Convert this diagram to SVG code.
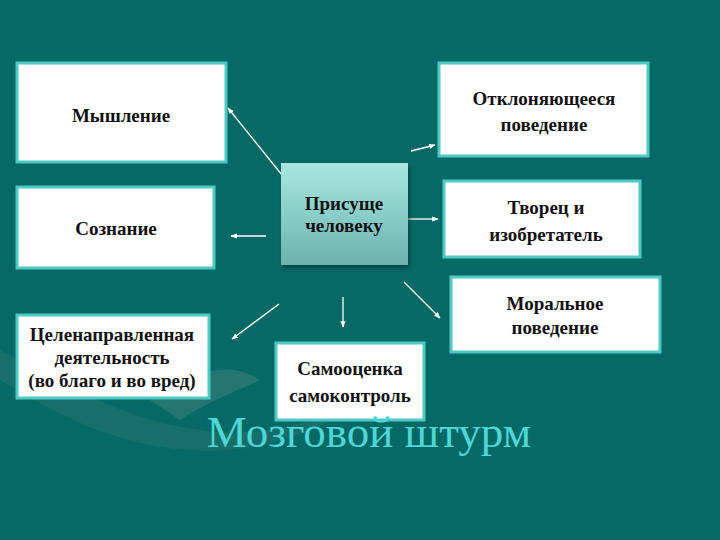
<svg xmlns="http://www.w3.org/2000/svg" width="720" height="540" viewBox="0 0 720 540">
<style>
.box{fill:#ffffff;stroke:#4ec9c4;stroke-width:3}
.t{font-family:"Liberation Serif",serif;font-size:19px;font-weight:bold;fill:#111;text-anchor:middle}
.c{stroke:#ffffff;stroke-width:1.3;fill:none;marker-end:url(#ah)}
</style>
<defs>
<marker id="ah" viewBox="0 0 10 10" refX="9" refY="5" markerWidth="5" markerHeight="5" orient="auto"><path d="M0,1 L10,5 L0,9 Z" fill="#ffffff"/></marker>
<linearGradient id="cg" x1="0" y1="0" x2="0" y2="1"><stop offset="0" stop-color="#a9e8e2"/><stop offset="1" stop-color="#6db2ae"/></linearGradient>
<filter id="sh" x="-10%" y="-10%" width="130%" height="130%"><feDropShadow dx="2" dy="3" stdDeviation="2" flood-color="#003333" flood-opacity="0.6"/></filter>
</defs>
<rect width="720" height="540" fill="#076965"/>
<path d="M0,350 C60,380 120,420 200,430 C260,440 330,420 380,390 C330,430 260,455 190,450 C110,445 50,410 0,380 Z" fill="#3e7f7c" opacity="0.3"/>
<path d="M150,400 C190,370 230,360 260,380 C240,390 210,400 180,420 Z" fill="#5a8f8c" opacity="0.35"/>
<g id="connectors">
<line class="c" x1="282" y1="175" x2="228" y2="108"/>
<line class="c" x1="266" y1="236" x2="231" y2="236"/>
<line class="c" x1="411" y1="151" x2="435" y2="145"/>
<line class="c" x1="408" y1="219" x2="438" y2="219"/>
<line class="c" x1="404" y1="282" x2="440" y2="318"/>
<line class="c" x1="343" y1="297" x2="343" y2="327"/>
<line class="c" x1="279" y1="304" x2="232" y2="339"/>
</g>
<g id="center"><rect x="281" y="163" width="127" height="102" fill="url(#cg)" filter="url(#sh)"/><text class="t" x="344" y="210" font-size="17.5">Присуще</text><text class="t" x="344" y="232" font-size="17.5">человеку</text></g>
<g id="n1"><rect class="box" x="17" y="63" width="209" height="99"/><text class="t" x="121" y="122">Мышление</text></g>
<g id="n2"><rect class="box" x="17" y="187" width="197" height="81"/><text class="t" x="116" y="235">Сознание</text></g>
<g id="n3"><rect class="box" x="17" y="315" width="192" height="83"/><text class="t" x="112" y="341">Целенаправленная</text><text class="t" x="112" y="364">деятельность</text><text class="t" x="112" y="387">(во благо и во вред)</text></g>
<g id="n4"><rect class="box" x="276" y="343" width="148" height="77"/><text class="t" x="350" y="375">Самооценка</text><text class="t" x="350" y="402">самоконтроль</text></g>
<g id="n5"><rect class="box" x="451" y="277" width="209" height="75"/><text class="t" x="555" y="310">Моральное</text><text class="t" x="555" y="334">поведение</text></g>
<g id="n6"><rect class="box" x="444" y="181" width="196" height="76"/><text class="t" x="546" y="214">Творец и</text><text class="t" x="546" y="241">изобретатель</text></g>
<g id="n7"><rect class="box" x="439" y="63" width="209" height="93"/><text class="t" x="544" y="105">Отклоняющееся</text><text class="t" x="544" y="131">поведение</text></g>
<text x="369" y="447" font-family="Liberation Serif,serif" font-size="45" fill="#4fd6d6" text-anchor="middle">Мозговой штурм</text>
</svg>
